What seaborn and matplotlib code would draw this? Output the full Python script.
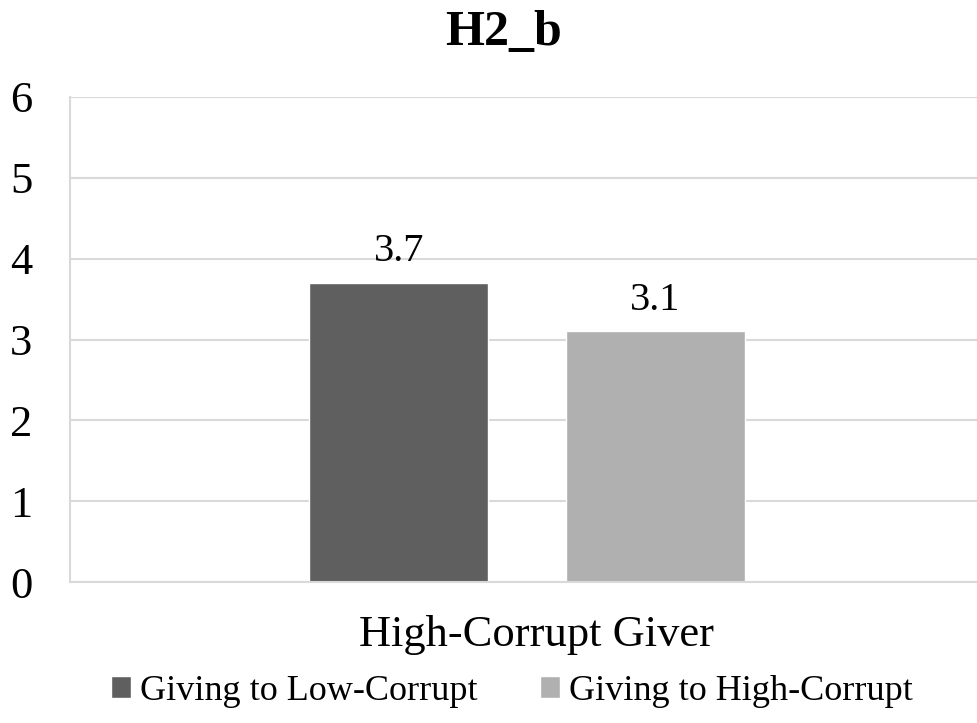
import matplotlib
matplotlib.use("Agg")
import matplotlib.pyplot as plt
import matplotlib.transforms as mtransforms
import seaborn as sns
import pandas as pd

categories = ["High-Corrupt Giver"]
series_names = ["Giving to Low-Corrupt", "Giving to High-Corrupt"]
low_values = [3.7]
high_values = [3.1]
y_ticks = [0, 1, 2, 3, 4, 5, 6]
title = "H2_b"
colors = ["#5f5f5f", "#b0b0b0"]

rows = []
for i, c in enumerate(categories):
    rows.append({"cat": c, "series": series_names[0], "value": low_values[i]})
    rows.append({"cat": c, "series": series_names[1], "value": high_values[i]})
df = pd.DataFrame(rows)

sns.set_theme(style="white")
plt.rcParams["font.family"] = ["Liberation Serif", "DejaVu Serif"]
plt.rcParams["text.color"] = "black"
plt.rcParams["xtick.color"] = "black"
plt.rcParams["ytick.color"] = "black"

fig = plt.figure(figsize=(9.77, 7.23), dpi=100)
ax = fig.add_axes([70 / 977, 1 - 582 / 723, 907 / 977, (582 - 97) / 723])

sns.barplot(data=df, x="cat", y="value", hue="series", palette=colors,
            width=0.5656, gap=0.302, ax=ax, legend=True, saturation=1)

ax.set_xlim(-0.504, 0.496)
ax.set_ylim(0, 6)
ax.set_yticks(y_ticks)
ax.set_yticklabels([str(t) for t in y_ticks])
ax.yaxis.grid(True, color="#d9d9d9", linewidth=1.5)
ax.set_axisbelow(True)
for s in ["top", "right"]:
    ax.spines[s].set_visible(False)
for s in ["left", "bottom"]:
    ax.spines[s].set_color("#d9d9d9")
    ax.spines[s].set_linewidth(1.5)
ax.tick_params(axis="y", length=0, pad=27, labelsize=32)
ax.tick_params(axis="x", length=0, pad=24, labelsize=32)
for lab in ax.get_yticklabels():
    lab.set_horizontalalignment("right")
offset = mtransforms.ScaledTranslation(9 / 100, 0, fig.dpi_scale_trans)
for lab in ax.get_xticklabels():
    lab.set_transform(lab.get_transform() + offset)
ax.set_xlabel("")
ax.set_ylabel("")

for cont in ax.containers:
    ax.bar_label(cont, fmt="%.1f", padding=9, fontsize=29, color="black")

handles, labels = ax.get_legend_handles_labels()
ax.get_legend().remove()
fig.legend(handles, labels, loc="center", bbox_to_anchor=(512 / 977, 1 - 691 / 723),
           ncol=2, frameon=False, fontsize=26, handlelength=0.55, handleheight=0.55,
           handletextpad=0.25, columnspacing=1.75)

fig.text(503 / 977, 1 - 45 / 723, title, ha="center", va="baseline",
         fontsize=36, fontweight="bold")

fig.savefig("out.png", dpi=100)
